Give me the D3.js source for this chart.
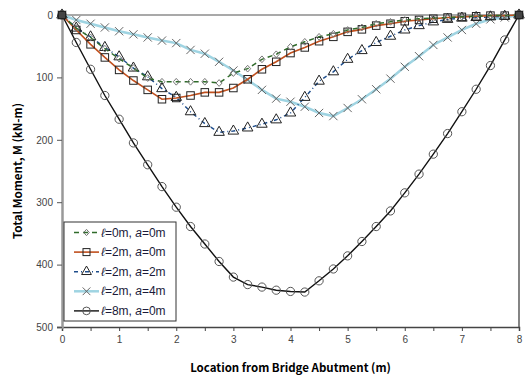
<!DOCTYPE html>
<html>
<head>
<meta charset="utf-8">
<script src="https://cdn.jsdelivr.net/npm/d3@7"></script>
<style>
  body { margin: 0; background: #fff; }
  svg { display: block; }
</style>
</head>
<body>
<div id="chart"></div>
<script>
// locations along the bridge (m), every 0.25 m
const xs = d3.range(0, 8.001, 0.25);

// total moment (kN-m) for each case
const l0a0 = [0, 21, 36, 54, 70, 85, 101, 107, 107, 107, 107, 109, 93, 86, 71, 63, 51, 43, 35, 30, 24, 20, 14, 11, 8, 6, 5, 4, 3, 2, 1, 1, 0];
const l2a0 = [0, 24, 47, 68, 88, 105, 120, 135, 133, 129, 124, 124, 117, 103, 87, 75, 61, 52, 42, 35, 27, 23, 17, 14, 10, 8, 6, 4, 3, 2, 1, 1, 0];
const l2a2 = [0, 21, 35, 52, 67, 85, 99, 118, 132, 155, 174, 188, 186, 181, 175, 168, 157, 132, 106, 91, 71, 57, 44, 34, 24, 17, 11, 7, 5, 4, 3, 2, 0];
const l2a4 = [0, 8, 14, 20, 26, 31, 36, 41, 45, 56, 62, 75, 89, 104, 120, 134, 139, 147, 157, 162, 149, 135, 119, 102, 83, 66, 48, 36, 24, 14, 7, 4, 0];
const l8a0 = [0, 44, 87, 129, 167, 205, 240, 275, 308, 339, 367, 395, 420, 432, 436, 441, 443, 444, 426, 407, 386, 363, 339, 314, 285, 255, 223, 190, 155, 119, 81, 40, 0];

const xTicks = [0, 1, 2, 3, 4, 5, 6, 7, 8];
const yTicks = [0, 100, 200, 300, 400, 500];

const series = [
  { l: '0', a: '0', values: l0a0, color: '#2f6b2a', width: 1.5, dash: '5,4', marker: 'diamond' },
  { l: '2', a: '0', values: l2a0, color: '#c0501e', width: 1.6, dash: null, marker: 'square' },
  { l: '2', a: '2', values: l2a2, color: '#1f4e8c', width: 1.5, dash: '4,3,1,3', marker: 'triangle' },
  { l: '2', a: '4', values: l2a4, color: '#9fd4e2', width: 2.5, dash: null, marker: 'cross' },
  { l: '8', a: '0', values: l8a0, color: '#111', width: 1.4, dash: null, marker: 'circle' }
];

const W = 530, H = 377;
const margin = { top: 15, right: 11, bottom: 50, left: 62 };
const width = W - margin.left - margin.right;
const height = H - margin.top - margin.bottom;

const svg = d3.select('#chart').append('svg')
  .attr('width', W)
  .attr('height', H);

const g = svg.append('g')
  .attr('transform', `translate(${margin.left},${margin.top})`);

const x = d3.scaleLinear().domain([0, 8]).range([0, width]);
const y = d3.scaleLinear().domain([0, 500]).range([0, height]);  // moment grows downward

// frame: top and right edges
g.append('line').attr('x1', 0).attr('x2', width).attr('y1', 0).attr('y2', 0)
  .attr('stroke', '#555').attr('stroke-width', 1.2);
g.append('line').attr('x1', width).attr('x2', width).attr('y1', 0).attr('y2', height)
  .attr('stroke', '#333').attr('stroke-width', 1.2);

// x axis (ticks every 0.5, labels every 1)
const xAxis = g.append('g')
  .attr('transform', `translate(0,${height})`)
  .call(d3.axisBottom(x).tickValues(d3.range(0, 8.001, 0.5)).tickSize(4).tickPadding(5)
    .tickFormat(d => xTicks.includes(d) ? d : ''));
xAxis.select('.domain').attr('stroke', '#444').attr('stroke-width', 1.5);
xAxis.selectAll('.tick line').attr('stroke', '#444');
xAxis.selectAll('text')
  .style('font-family', '"Liberation Sans Narrow", "Liberation Sans", sans-serif')
  .style('font-size', '10px').attr('fill', '#444');

// y axis
const yAxis = g.append('g')
  .call(d3.axisLeft(y).tickValues(yTicks).tickSize(5).tickPadding(4));
yAxis.select('.domain').attr('stroke', '#999').attr('stroke-width', 2.5);
yAxis.selectAll('.tick line').attr('stroke', '#555');
yAxis.selectAll('text')
  .style('font-family', '"Liberation Sans Narrow", "Liberation Sans", sans-serif')
  .style('font-size', '10px').attr('fill', '#444');

// marker shapes
function drawMarker(sel, type, size) {
  const s = size;
  if (type === 'circle') {
    sel.append('circle').attr('r', s * 0.55)
      .attr('fill', 'none').attr('stroke', '#555').attr('stroke-width', 1);
  } else if (type === 'square') {
    sel.append('rect').attr('x', -s / 2).attr('y', -s / 2).attr('width', s).attr('height', s)
      .attr('fill', 'none').attr('stroke', '#222').attr('stroke-width', 1);
  } else if (type === 'triangle') {
    sel.append('path').attr('d', d3.symbol(d3.symbolTriangle, s * s * 0.85)())
      .attr('fill', 'none').attr('stroke', '#222').attr('stroke-width', 1);
  } else if (type === 'diamond') {
    sel.append('path').attr('d', `M0,${-s * 0.45}L${s * 0.4},0L0,${s * 0.45}L${-s * 0.4},0Z`)
      .attr('fill', 'none').attr('stroke', '#777').attr('stroke-width', 1);
  } else if (type === 'cross') {
    const c = s * 0.55;
    sel.append('path').attr('d', `M${-c},${-c}L${c},${c}M${-c},${c}L${c},${-c}`)
      .attr('stroke', '#666').attr('stroke-width', 1);
  }
}

const line = d3.line()
  .x(d => x(d[0]))
  .y(d => y(d[1]));

// draw from bottom of the legend order upward so the black curve sits underneath
const drawOrder = [4, 3, 2, 1, 0];
drawOrder.forEach(i => {
  const s = series[i];
  const pts = xs.map((v, k) => [v, s.values[k]]);
  g.append('path')
    .datum(pts)
    .attr('fill', 'none')
    .attr('stroke', s.color)
    .attr('stroke-width', s.width)
    .attr('stroke-dasharray', s.dash)
    .attr('d', line);
  g.selectAll(null)
    .data(pts)
    .enter().append('g')
    .attr('transform', d => `translate(${x(d[0])},${y(d[1])})`)
    .each(function () { drawMarker(d3.select(this), s.marker, 7.5); });
});

// end points drawn as dark filled squares
[[0, 0], [8, 0]].forEach(p => {
  g.append('rect')
    .attr('x', x(p[0]) - 3.5).attr('y', y(p[1]) - 3.5)
    .attr('width', 7).attr('height', 7)
    .attr('fill', '#444').attr('stroke', '#222');
});

// legend
const lg = svg.append('g').attr('transform', 'translate(64,222)');
lg.append('rect')
  .attr('width', 112).attr('height', 99)
  .attr('fill', '#fff').attr('stroke', '#333').attr('stroke-width', 1);
series.forEach((s, i) => {
  const row = lg.append('g').attr('transform', `translate(0,${10.5 + i * 19.6})`);
  row.append('line')
    .attr('x1', 10).attr('x2', 35)
    .attr('stroke', s.color).attr('stroke-width', s.width)
    .attr('stroke-dasharray', s.dash);
  drawMarker(row.append('g').attr('transform', 'translate(22.5,0)'), s.marker, 7);
  const t = row.append('text')
    .attr('x', 37).attr('y', 4)
    .style('font-family', '"Liberation Sans", Arial, sans-serif')
    .style('font-size', '12px')
    .attr('fill', '#1a1a3a');
  t.append('tspan').style('font-style', 'italic').text('\u2113');
  t.append('tspan').text(`=${s.l}m, `);
  t.append('tspan').style('font-style', 'italic').text('a');
  t.append('tspan').text(`=${s.a}m`);
});

// axis titles
svg.append('text')
  .attr('x', margin.left + width / 2)
  .attr('y', 372)
  .attr('text-anchor', 'middle')
  .style('font-family', '"Noto Sans CJK KR", "Noto Sans", sans-serif')
  .style('font-size', '11.5px')
  .style('font-weight', 'bold')
  .text('Location from Bridge Abutment (m)');

svg.append('text')
  .attr('transform', `translate(22,${margin.top + height / 2}) rotate(-90)`)
  .attr('text-anchor', 'middle')
  .style('font-family', '"Noto Sans CJK KR", "Noto Sans", sans-serif')
  .style('font-size', '11.5px')
  .style('font-weight', 'bold')
  .text('Total Moment, M (kN-m)');
</script>
</body>
</html>
